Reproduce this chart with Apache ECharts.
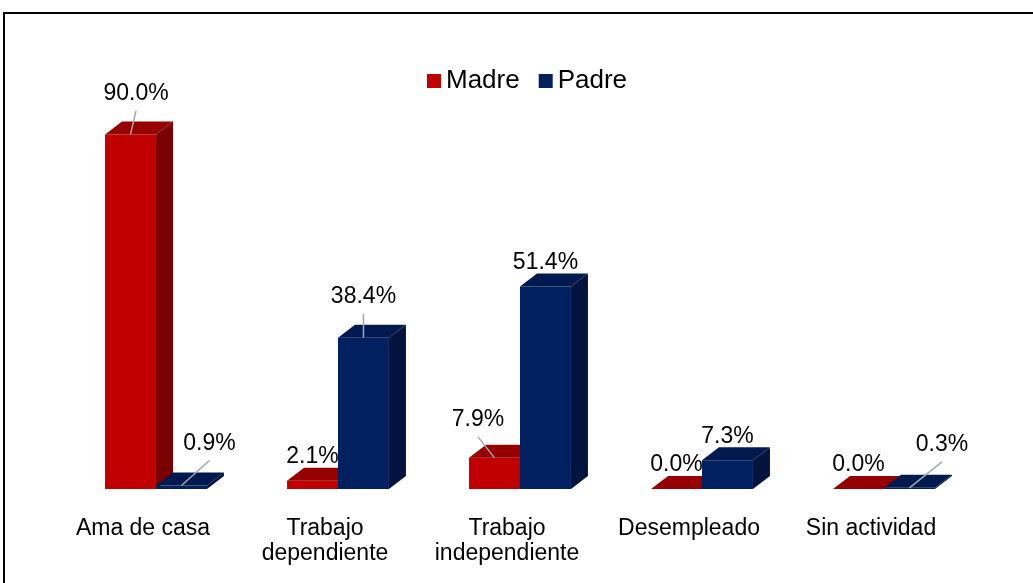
<!DOCTYPE html>
<html>
<head>
<meta charset="utf-8">
<script src="https://cdn.jsdelivr.net/npm/echarts@6/dist/echarts.min.js"></script>
<style>
  html, body { margin: 0; padding: 0; background: #fff; }
  #chart { width: 1033px; height: 583px; }
</style>
</head>
<body>
<div id="chart"></div>
<script>
// categorías y valores (%)
const categories = ['Ama de casa', 'Trabajo\ndependiente', 'Trabajo\nindependiente', 'Desempleado', 'Sin actividad'];
const seriesNames = ['Madre', 'Padre'];
const madre = [90.0, 2.1, 7.9, 0.0, 0.0];
const padre = [0.9, 38.4, 51.4, 7.3, 0.3];

// colores: frente, tapa, lateral
const palette = [
  { front: '#C00000', top: '#960000', side: '#7A0000' },
  { front: '#002060', top: '#001A4F', side: '#00143D' }
];

// etiquetas desplazadas a mano (con línea guía), clave serie-categoría
const labelNudge = {
  '0-0': [5.5, -16.5],
  '1-0': [28, -18],
  '1-1': [0, -17],
  '0-2': [-16.5, -14],
  '1-4': [32.5, -19]
};

const depthX = 17, depthY = 13;
const fontFamily = '"Liberation Sans", Arial, sans-serif';

function renderBar(params, api) {
  const si = params.seriesIndex;
  const ci = api.value(0);
  const v = api.value(1);
  const base = api.coord([ci, 0]);
  const topPt = api.coord([ci, v]);
  const bw = api.size([1, 0])[0];
  const w = bw * 0.28;
  const mid = base[0] + bw * 0.0714;
  const x0 = si === 0 ? mid - w : mid;
  const x1 = x0 + w;
  const yb = base[1];
  const yt = topPt[1];
  const c = palette[si];

  const children = [
    { type: 'polygon', shape: { points: [[x1, yb], [x1 + depthX, yb - depthY], [x1 + depthX, yt - depthY], [x1, yt]] },
      style: { fill: c.side } },
    { type: 'rect', shape: { x: x0, y: yt, width: w, height: yb - yt },
      style: { fill: c.front } },
    { type: 'polygon', shape: { points: [[x0, yt], [x1, yt], [x1 + depthX, yt - depthY], [x0 + depthX, yt - depthY]] },
      style: { fill: c.top } }
  ];

  const cx = x0 + w / 2;
  let lx = cx, ly = yt - 24;
  const nudge = labelNudge[si + '-' + ci];
  if (nudge) {
    lx += nudge[0];
    ly += nudge[1];
    children.push({
      type: 'line', z2: 90,
      shape: { x1: lx, y1: ly + 17, x2: cx, y2: yt },
      style: { stroke: '#A6A6A6', lineWidth: 1.5 }
    });
  }
  children.push({
    type: 'text', z2: 100,
    style: {
      x: lx, y: ly, text: v.toFixed(1) + '%',
      fill: '#000', font: '23px ' + fontFamily,
      align: 'center', verticalAlign: 'middle'
    }
  });
  return { type: 'group', children: children };
}

const chart = echarts.init(document.getElementById('chart'));
chart.setOption({
  animation: false,
  backgroundColor: '#fff',
  graphic: [{
    type: 'rect', silent: true,
    shape: { x: 4, y: 13, width: 1100, height: 700 },
    style: { fill: 'none', stroke: '#000', lineWidth: 2 }
  }],
  legend: {
    data: seriesNames,
    left: 427,
    top: 68,
    padding: 0,
    icon: 'rect',
    itemWidth: 14,
    itemHeight: 14,
    itemGap: 19,
    textStyle: { fontFamily: fontFamily, fontSize: 26, color: '#000' }
  },
  grid: { left: 52, right: 71, top: 95, bottom: 94 },
  xAxis: {
    type: 'category',
    data: categories,
    axisLine: { show: false },
    axisTick: { show: false },
    axisLabel: {
      margin: 27,
      fontFamily: fontFamily,
      fontSize: 23,
      lineHeight: 25,
      color: '#000',
      interval: 0
    }
  },
  yAxis: { type: 'value', min: 0, max: 100, show: false, splitLine: { show: false } },
  series: [
    { name: seriesNames[0], type: 'custom', renderItem: renderBar,
      itemStyle: { color: palette[0].front },
      data: madre.map((v, i) => [i, v]) },
    { name: seriesNames[1], type: 'custom', renderItem: renderBar,
      itemStyle: { color: palette[1].front },
      data: padre.map((v, i) => [i, v]) }
  ]
});
</script>
</body>
</html>
